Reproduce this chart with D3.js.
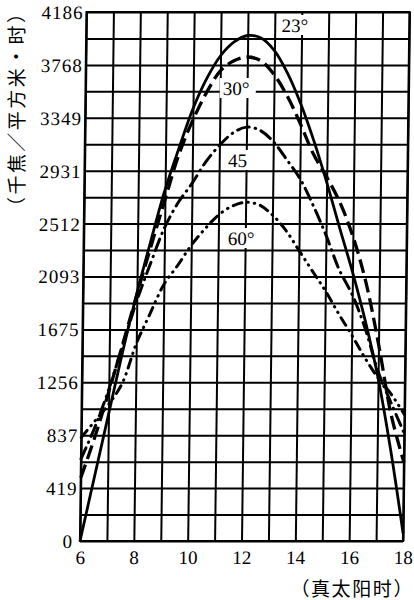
<!DOCTYPE html>
<html><head><meta charset="utf-8">
<script src="https://cdn.jsdelivr.net/npm/d3@7"></script>
<style>
html,body{margin:0;padding:0;background:#fff;}
svg{display:block;}
text{text-spacing-trim:space-all;}
</style></head>
<body>
<svg id="chart" width="414" height="600"></svg>
<script>
// ---- data ----
const hours = [6,6.5,7,7.5,8,8.5,9,9.5,10,10.5,11,11.5,12,12.5,13,13.5,14,14.5,15,15.5,16,16.5,17,17.5,18];
const lat23 = [0,500,1000,1500,1960,2380,2780,3110,3420,3660,3840,3950,4000,3980,3880,3700,3460,3170,2840,2480,2130,1740,1290,720,60];
const lat30 = [500,820,1180,1560,1950,2330,2700,3060,3330,3550,3720,3800,3830,3800,3690,3520,3300,3060,2880,2680,2410,2050,1560,1000,620];
const lat45 = [650,900,1200,1550,1900,2200,2480,2680,2830,3000,3130,3230,3275,3250,3160,3020,2870,2660,2420,2150,1950,1680,1340,1090,850];
const lat60 = [820,950,1080,1250,1560,1800,2030,2180,2340,2470,2580,2650,2680,2660,2580,2460,2300,2140,1980,1800,1630,1450,1290,1160,1000];
const seriesNames = ["23°","30°","45","60°"];
const xTickValues = [6,7,8,9,10,11,12,13,14,15,16,17,18];
const xTickLabels = ["6","","8","","10","","12","","14","","16","","18"];
const yTickValues = [0,209.3,418.6,627.9,837.2,1046.5,1255.8,1465.1,1674.4,1883.7,2093,2302.3,2511.6,2720.9,2930.2,3139.5,3348.8,3558.1,3767.4,3976.7,4186];
const yTickLabels = ["0","","419","","837","","1256","","1675","","2093","","2512","","2931","","3349","","3768","","4186"];
const yTitle = "（千焦／平方米·时）";
const xTitle = "（真太阳时）";

// ---- chart ----
const svg = d3.select("#chart");
const pL = 80, pR = 403, pT = 12, pB = 541;
const x = d3.scaleLinear().domain([6,18]).range([pL,pR]);
const y = d3.scaleLinear().domain([0,4186]).range([pB,pT]);

// slight scan skew
const g = svg.append("g").attr("transform","translate(6.65,0) skewX(-0.704)");

const xAxis = d3.axisBottom(x).tickValues(xTickValues)
  .tickSize(-(pB-pT)).tickPadding(10)
  .tickFormat((d,i)=>xTickLabels[i]);
const gx = g.append("g").attr("transform",`translate(0,${pB})`).call(xAxis);
const yAxis = d3.axisLeft(y).tickValues(yTickValues)
  .tickSize(-(pR-pL)).tickPadding(3)
  .tickFormat((d,i)=>yTickLabels[i]);
const gy = g.append("g").attr("transform",`translate(${pL},0)`).call(yAxis);

[gx,gy].forEach(a=>{
  a.select(".domain").remove();
  a.selectAll(".tick line").attr("stroke","#000").attr("stroke-width",2);
  a.selectAll(".tick text").attr("fill","#000")
    .style("font-family","'Liberation Serif','DejaVu Serif',serif")
    .style("font-size","19px");
});
gy.selectAll(".tick text").attr("dy","0.34em").style("letter-spacing","1px");
gy.selectAll(".tick text").filter((d,i)=>i===0).attr("dx","-4");
gx.selectAll(".tick text").attr("dy","0.71em");

// frame
g.append("rect").attr("x",pL).attr("y",pT).attr("width",pR-pL).attr("height",pB-pT)
  .attr("fill","none").attr("stroke","#000").attr("stroke-width",2.2);

// curve labels: start hour and centre value of each label box
const labelPos = [
  {t:seriesNames[0], h:13.25, v:4083},
  {t:seriesNames[1], h:11.10, v:3585},
  {t:seriesNames[2], h:11.33, v:3015},
  {t:seriesNames[3], h:11.35, v:2398}
];
const line = d3.line().x((d,i)=>x(hours[i])).y(d=>y(d)).curve(d3.curveCatmullRom.alpha(0.5));

labelPos.forEach(l=>{
  const cx = x(l.h), cy = y(l.v);
  const w = l.t.length>2?32:26;
  g.append("rect").attr("x",cx-3).attr("y",cy-10).attr("width",w+4).attr("height",20).attr("fill","#fff");
});

const styles = [
  {data:lat23, dash:null, w:2.8, cap:"butt"},
  {data:lat30, dash:"14,6", w:3.3, cap:"butt"},
  {data:lat45, dash:"12,6,0.5,6", w:3, cap:"round"},
  {data:lat60, dash:"9,6,0.5,6,0.5,6", w:3, cap:"round"}
];
styles.forEach(s=>{
  g.append("path").attr("d",line(s.data)).attr("fill","none").attr("stroke","#000")
    .attr("stroke-width",s.w).attr("stroke-linecap",s.cap)
    .attr("stroke-dasharray",s.dash);
});

labelPos.forEach(l=>{
  const cx = x(l.h), cy = y(l.v);
  g.append("text").attr("x",cx).attr("y",cy+7).text(l.t)
    .style("font-family","'Liberation Serif','DejaVu Serif',serif").style("font-size","19px").attr("fill","#000");
});

// axis titles
svg.append("text").attr("transform","translate(15,110) rotate(-90)")
  .attr("text-anchor","middle").attr("dominant-baseline","central")
  .attr("textLength",212).attr("lengthAdjust","spacing")
  .style("font-family","'Noto Sans CJK SC',sans-serif").style("font-size","19px").attr("fill","#000")
  .text(yTitle);
svg.append("text").attr("x",414).attr("y",596).attr("text-anchor","end")
  .style("font-family","'Noto Sans CJK SC',sans-serif").style("font-size","19px")
  .style("letter-spacing","1.6px").attr("fill","#000")
  .text(xTitle);
</script>
</body></html>
